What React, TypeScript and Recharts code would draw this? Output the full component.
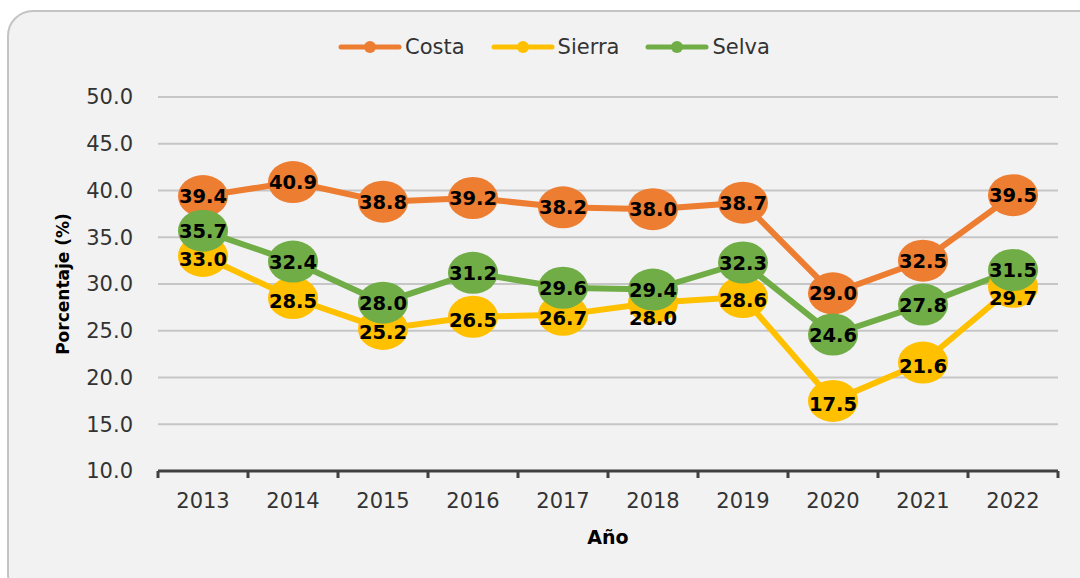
import React from 'react';
import { LineChart, Line, XAxis, YAxis, CartesianGrid, LabelList } from 'recharts';

const years = ['2013', '2014', '2015', '2016', '2017', '2018', '2019', '2020', '2021', '2022'];
const costa = [39.4, 40.9, 38.8, 39.2, 38.2, 38.0, 38.7, 29.0, 32.5, 39.5];
const sierra = [33.0, 28.5, 25.2, 26.5, 26.7, 28.0, 28.6, 17.5, 21.6, 29.7];
const selva = [35.7, 32.4, 28.0, 31.2, 29.6, 29.4, 32.3, 24.6, 27.8, 31.5];
const yTicks = [10, 15, 20, 25, 30, 35, 40, 45, 50];

const seriesInfo = [
  { key: 'costa', name: 'Costa', color: '#ED7D31' },
  { key: 'sierra', name: 'Sierra', color: '#FFC000' },
  { key: 'selva', name: 'Selva', color: '#70AD47' },
];

const data = years.map((y, i) => ({ year: y, costa: costa[i], sierra: sierra[i], selva: selva[i] }));

const FONT = '"DejaVu Sans", Verdana, sans-serif';
const HALF_BAND = 45;
const CHART_W = 1080;
const CHART_H = 578;
const MARGIN = { top: 97, right: 22, left: 0, bottom: 67 };
const X_AXIS_H = 40;
const PLOT_H = CHART_H - MARGIN.top - MARGIN.bottom - X_AXIS_H;
const PX_PER_UNIT = PLOT_H / (yTicks[yTicks.length - 1] - yTicks[0]);

const makeDot = (color: string) => (p: any) => {
  if (p.cx == null || p.cy == null) return <g key={`d-${p.index}`} />;
  return <ellipse key={`d-${p.index}`} cx={p.cx} cy={p.cy} rx={25} ry={21} fill={color} />;
};

const makeLabel = (key: string) => (p: any) => {
  const { x, y, value, index } = p;
  if (x == null || y == null) return null;
  let ly = y;
  if (key === 'sierra') {
    // keep the Sierra label clear of the Selva label above it
    const selvaY = y - (selva[index] - sierra[index]) * PX_PER_UNIT;
    ly = Math.max(y + 3, selvaY + 28);
  }
  return (
    <text key={`l-${index}`} x={x} y={ly} dy="0.36em" textAnchor="middle" fontSize={19.5} fontWeight="bold" fill="#000" fontFamily={FONT}>
      {Number(value).toFixed(1)}
    </text>
  );
};

const XTick = (props: any) => {
  const { x, y, payload, index, visibleTicksCount } = props;
  const off = HALF_BAND;
  const last = index === (visibleTicksCount ?? years.length) - 1;
  return (
    <g>
      <line x1={x - off} x2={x - off} y1={y} y2={y + 7} stroke="#404040" strokeWidth={3} />
      {last && <line x1={x + off} x2={x + off} y1={y} y2={y + 7} stroke="#404040" strokeWidth={3} />}
      <text x={x} y={y + 29} dy="0.36em" textAnchor="middle" fontSize={21} fill="#333" fontFamily={FONT}>
        {payload.value}
      </text>
    </g>
  );
};

const Legend = () => (
  <div style={{ position: 'absolute', left: 338, top: 34, height: 26, display: 'flex', alignItems: 'center', fontFamily: FONT, fontSize: 21, color: '#333' }}>
    {seriesInfo.map((s, i) => (
      <div key={s.key} style={{ display: 'flex', alignItems: 'center', marginRight: i < seriesInfo.length - 1 ? 26 : 0 }}>
        <svg width={64} height={14} style={{ display: 'block' }}>
          <line x1={3} x2={61} y1={7} y2={7} stroke={s.color} strokeWidth={5} strokeLinecap="round" />
          <circle cx={32} cy={7} r={6} fill={s.color} />
        </svg>
        <span style={{ marginLeft: 3, lineHeight: '26px' }}>{s.name}</span>
      </div>
    ))}
  </div>
);

export default function App() {
  return (
    <div style={{ position: 'absolute', left: 0, top: 0, width: CHART_W, height: CHART_H, overflow: 'hidden', background: '#fff' }}>
      <div style={{ position: 'absolute', left: 7, top: 10, width: 1100, height: 590, border: '2px solid #c4c4c4', borderRadius: 26, background: '#f2f2f2', boxSizing: 'border-box' }} />
      <Legend />
      <div style={{ position: 'absolute', left: 0, top: 0 }}>
        <LineChart width={CHART_W} height={CHART_H} data={data} margin={MARGIN} style={{ fontFamily: FONT }}>
          <CartesianGrid vertical={false} stroke="#c6c6c6" strokeWidth={2} />
          <YAxis
            type="number"
            domain={[10, 50]}
            ticks={yTicks}
            interval={0}
            width={158}
            axisLine={false}
            tickLine={false}
            tickSize={0}
            tickMargin={25}
            tickFormatter={(v: number) => v.toFixed(1)}
            tick={{ fill: '#333', fontSize: 21, fontFamily: FONT }}
            label={{
              content: (p: any) => {
                const vb = p.viewBox || { x: 0, y: 97, width: 158, height: 374 };
                const cx = vb.x + 63;
                const cy = vb.y + vb.height / 2;
                return (
                  <text transform={`translate(${cx},${cy}) rotate(-90)`} textAnchor="middle" dy="0.36em" fontSize={17} fontWeight="bold" fill="#000" fontFamily={FONT}>
                    Porcentaje (%)
                  </text>
                );
              },
            }}
          />
          <XAxis
            dataKey="year"
            height={X_AXIS_H}
            interval={0}
            padding={{ left: HALF_BAND, right: HALF_BAND }}
            tickSize={0}
            tickMargin={0}
            tickLine={false}
            axisLine={{ stroke: '#404040', strokeWidth: 3 }}
            tick={<XTick />}
            label={{
              content: (p: any) => {
                const vb = p.viewBox || { x: 158, y: 471, width: 900, height: 40 };
                return (
                  <text x={vb.x + vb.width / 2} y={vb.y + 66} dy="0.36em" textAnchor="middle" fontSize={19} fontWeight="bold" fill="#000" fontFamily={FONT}>
                    Año
                  </text>
                );
              },
            }}
          />
          {seriesInfo.map((s) => (
            <Line
              key={s.key}
              type="linear"
              dataKey={s.key}
              name={s.name}
              stroke={s.color}
              strokeWidth={6}
              dot={makeDot(s.color)}
              activeDot={false}
              isAnimationActive={false}
            />
          ))}
          {seriesInfo.map((s) => (
            <Line
              key={`${s.key}-labels`}
              type="linear"
              dataKey={s.key}
              stroke="none"
              strokeWidth={0}
              dot={false}
              activeDot={false}
              legendType="none"
              isAnimationActive={false}
            >
              <LabelList dataKey={s.key} content={makeLabel(s.key)} />
            </Line>
          ))}
        </LineChart>
      </div>
    </div>
  );
}
